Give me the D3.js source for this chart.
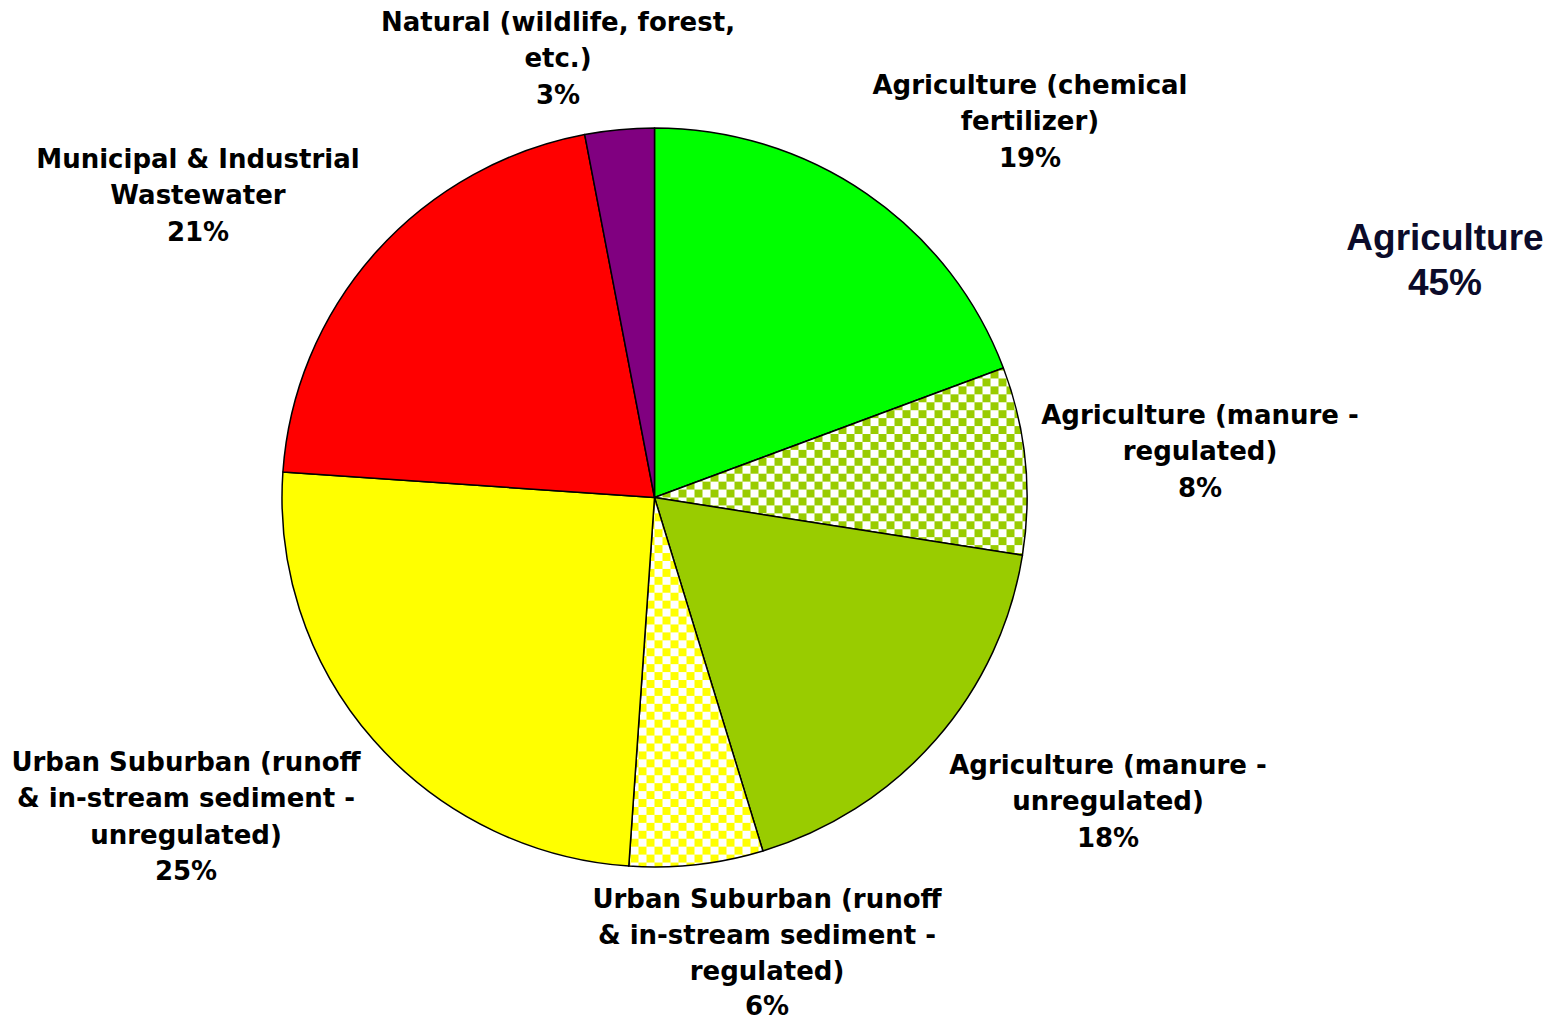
<!DOCTYPE html>
<html><head><meta charset="utf-8">
<script src="https://cdn.jsdelivr.net/npm/d3@7"></script>
<style>html,body{margin:0;padding:0;background:#fff;}</style>
</head><body>
<svg id="c" width="1561" height="1022"></svg>
<script>
const categories = [
  "Agriculture (chemical fertilizer)",
  "Agriculture (manure - regulated)",
  "Agriculture (manure - unregulated)",
  "Urban Suburban (runoff & in-stream sediment - regulated)",
  "Urban Suburban (runoff & in-stream sediment - unregulated)",
  "Municipal & Industrial Wastewater",
  "Natural (wildlife, forest, etc.)"
];
const values = [19.3, 8.2, 17.8, 5.8, 25.0, 20.9, 3.0];
const pctLabels = ["19%", "8%", "18%", "6%", "25%", "21%", "3%"];
const labelLines = [
  ["Agriculture (chemical", "fertilizer)"],
  ["Agriculture (manure -", "regulated)"],
  ["Agriculture (manure -", "unregulated)"],
  ["Urban Suburban (runoff", "& in-stream sediment -", "regulated)"],
  ["Urban Suburban (runoff", "& in-stream sediment -", "unregulated)"],
  ["Municipal & Industrial", "Wastewater"],
  ["Natural (wildlife, forest,", "etc.)"]
];
const groupLabel = ["Agriculture", "45%"];

// layout (not data)
const fills = ["#00FF00", "url(#chkGreen)", "#99CC00", "url(#chkYellow)", "#FFFF00", "#FF0000", "#800080"];
const labelPos = [[1030, 85], [1200, 415], [1108, 765], [767, 899], [186, 762], [198, 159], [558, 22]];
const lineGap = [36.3, 36.3, 36.3, 35.8, 36.3, 36.3, 36.3];

const svg = d3.select("#c");
const defs = svg.append("defs");
function checker(id, color) {
  const p = defs.append("pattern").attr("id", id).attr("patternUnits", "userSpaceOnUse")
    .attr("width", 16).attr("height", 16).attr("x", 0).attr("y", 0);
  p.append("rect").attr("width", 16).attr("height", 16).attr("fill", "#fff");
  p.append("rect").attr("width", 8).attr("height", 8).attr("fill", color);
  p.append("rect").attr("x", 8).attr("y", 8).attr("width", 8).attr("height", 8).attr("fill", color);
}
checker("chkGreen", "#99CC00");
checker("chkYellow", "#FFFF00");

const cx = 654.5, cy = 497.5, r = 372.5, ry = 369.5;
const pie = d3.pie().sort(null).value(d => d);
const arc = d3.arc().innerRadius(0).outerRadius(r);
const g = svg.append("g").attr("transform", `translate(${cx},${cy}) scale(1,${ry / r})`);
g.selectAll("path").data(pie(values)).join("path")
  .attr("d", arc)
  .attr("fill", (d, i) => fills[i])
  .attr("stroke", "#000").attr("stroke-width", 1.5).attr("stroke-linejoin", "round")
  .attr("vector-effect", "non-scaling-stroke");

const fs = 26;
labelLines.forEach((lines, i) => {
  const all = lines.concat([pctLabels[i]]);
  const t = svg.append("text")
    .attr("font-family", "'DejaVu Sans', Verdana, sans-serif")
    .attr("font-weight", "bold").attr("font-size", fs)
    .attr("text-anchor", "middle").attr("fill", "#000");
  all.forEach((s, k) => {
    t.append("tspan").attr("x", labelPos[i][0]).attr("y", labelPos[i][1] + k * lineGap[i])
      .attr("dominant-baseline", "central").text(s);
  });
});

const gt = svg.append("text").attr("font-family", "'Liberation Sans', Arial, sans-serif")
  .attr("font-weight", "bold").attr("font-size", 37).attr("text-anchor", "middle").attr("fill", "#0b0b2a");
groupLabel.forEach((s, k) => {
  gt.append("tspan").attr("x", 1445).attr("y", 237 + k * 45).attr("dominant-baseline", "central").text(s);
});
</script>
</body></html>
